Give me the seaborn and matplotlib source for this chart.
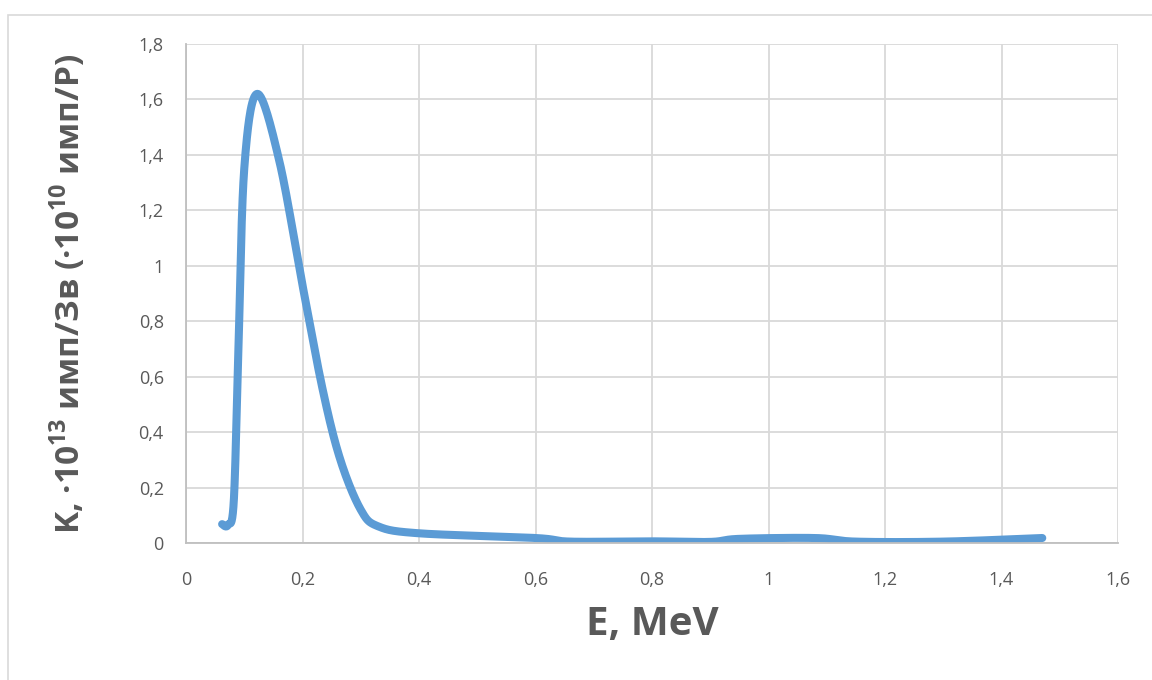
import numpy as np
import matplotlib
matplotlib.use("Agg")
import matplotlib.pyplot as plt
import seaborn as sns
import pandas as pd
from matplotlib.patches import Rectangle

# Detector sensitivity versus photon energy
energy_mev = [0.062, 0.072, 0.082, 0.090, 0.100, 0.122, 0.160, 0.200, 0.235,
              0.265, 0.300, 0.330, 0.400, 0.600, 0.660, 0.800, 0.900, 0.950,
              1.080, 1.150, 1.300, 1.470]
sensitivity = [0.068, 0.065, 0.15, 0.70, 1.35, 1.62, 1.38, 0.93, 0.55,
               0.30, 0.12, 0.06, 0.035, 0.018, 0.005, 0.006, 0.004, 0.015,
               0.018, 0.005, 0.005, 0.018]

x_ticks = [0, 0.2, 0.4, 0.6, 0.8, 1.0, 1.2, 1.4, 1.6]
y_ticks = [0, 0.2, 0.4, 0.6, 0.8, 1.0, 1.2, 1.4, 1.6, 1.8]


def comma(v):
    s = f"{v:.1f}".rstrip("0").rstrip(".")
    return s.replace(".", ",")


def smooth(x, y, n=30):
    # Catmull-Rom smoothing of the polyline, like a spreadsheet "smoothed line"
    x = np.asarray(x, float)
    y = np.asarray(y, float)
    px = np.concatenate([[x[0]], x, [x[-1]]])
    py = np.concatenate([[y[0]], y, [y[-1]]])
    xs, ys = [], []
    t = np.linspace(0, 1, n, endpoint=False)
    for i in range(1, len(px) - 2):
        p0, p1, p2, p3 = [np.array([px[j], py[j]]) for j in (i - 1, i, i + 1, i + 2)]
        c1 = p1 + (p2 - p0) / 6.0
        c2 = p2 - (p3 - p1) / 6.0
        for tt in t:
            pt = ((1 - tt) ** 3) * p1 + 3 * ((1 - tt) ** 2) * tt * c1 + 3 * (1 - tt) * tt ** 2 * c2 + tt ** 3 * p2
            xs.append(pt[0])
            ys.append(pt[1])
    xs.append(x[-1])
    ys.append(y[-1])
    return np.array(xs), np.array(ys)


sns.set_style("white")
plt.rcParams["font.family"] = ["Open Sans", "DejaVu Sans"]
plt.rcParams["mathtext.fontset"] = "custom"
plt.rcParams["mathtext.rm"] = "Open Sans"
plt.rcParams["mathtext.bf"] = "Open Sans:bold"

fig = plt.figure(figsize=(11.52, 6.8), dpi=100)
fig.patch.set_facecolor("white")
fig.patches.append(Rectangle((8 / 1152, -0.1), 1.2, (680 - 15) / 680 + 0.1,
                             transform=fig.transFigure, fill=False,
                             edgecolor="#D9D9D9", linewidth=1.2))

ax = fig.add_axes([186 / 1152, (680 - 543) / 680, (1118 - 186) / 1152, (543 - 44) / 680])

sx, sy = smooth(energy_mev, sensitivity)
df = pd.DataFrame({"E": sx, "K": sy})
sns.lineplot(data=df, x="E", y="K", ax=ax, color="#5B9BD5", linewidth=5.8,
             sort=False, estimator=None, solid_capstyle="round")

ax.set_xlim(0, 1.6)
ax.set_ylim(0, 1.8)
ax.set_xticks(x_ticks)
ax.set_xticklabels([comma(v) for v in x_ticks])
ax.set_yticks(y_ticks)
ax.set_yticklabels([comma(v) for v in y_ticks])
ax.grid(True, color="#D9D9D9", linewidth=1.3)
ax.set_axisbelow(True)
for side in ("top", "right"):
    ax.spines[side].set_visible(False)
for side in ("left", "bottom"):
    ax.spines[side].set_color("#BFBFBF")
    ax.spines[side].set_linewidth(1.3)
ax.tick_params(axis="both", length=0, labelsize=13, labelcolor="#595959")
ax.tick_params(axis="x", pad=20)
ax.tick_params(axis="y", pad=16)

ax.set_xlabel("E, MeV", fontsize=29, fontweight="bold", color="#595959", labelpad=12)
ax.set_ylabel(r"K, ·10$^{\mathbf{13}}$ имп/Зв (·10$^{\mathbf{10}}$ имп/Р)", fontsize=24,
              fontweight="bold", color="#595959", labelpad=36)

fig.savefig("out.png", dpi=100)
